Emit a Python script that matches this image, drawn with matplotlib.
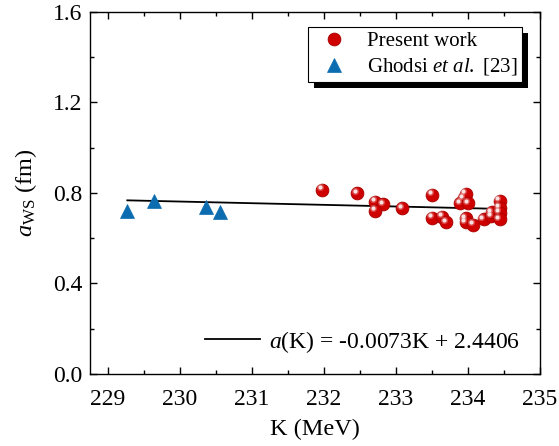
import numpy as np
import matplotlib
matplotlib.use("Agg")
import matplotlib.pyplot as plt
from matplotlib.transforms import offset_copy
from matplotlib.patches import Rectangle
from matplotlib.ticker import MultipleLocator

plt.rcParams['font.family'] = ['Liberation Serif', 'DejaVu Serif']
plt.rcParams['mathtext.fontset'] = 'custom'
plt.rcParams['mathtext.rm'] = 'Liberation Serif'
plt.rcParams['mathtext.it'] = 'Liberation Serif:italic'
plt.rcParams['mathtext.bf'] = 'Liberation Serif:bold'

# Present work: incompressibility K (MeV) and diffuseness a_WS (fm)
present_K = [231.98, 232.46, 232.71, 232.82, 232.71, 233.09, 233.50, 233.50,
             233.64, 233.70, 233.94, 233.97, 233.89, 234.00, 233.97, 233.97,
             234.07, 234.22, 234.32, 234.33, 234.44, 234.44, 234.44, 234.44]
present_a = [0.813, 0.798, 0.761, 0.749, 0.720, 0.732, 0.790, 0.690,
             0.695, 0.670, 0.776, 0.795, 0.754, 0.754, 0.688, 0.670,
             0.660, 0.683, 0.697, 0.714, 0.764, 0.735, 0.712, 0.683]

# Ghodsi et al. [23]
ghodsi_K = [229.27, 229.64, 230.36, 230.55]
ghodsi_a = [0.721, 0.765, 0.736, 0.717]

# Linear fit a(K) = slope*K + intercept
slope = -0.0073
intercept = 2.4406

x_ticks = [229, 230, 231, 232, 233, 234, 235]
y_ticks = [0.0, 0.4, 0.8, 1.2, 1.6]

W, H = 559, 446
fig = plt.figure(figsize=(W / 100, H / 100), dpi=100)
ax = fig.add_axes([89.5 / W, (H - 374) / H, (540 - 89.5) / W, (374 - 11.7) / H])

all_K = np.array(present_K + ghodsi_K)
k_line = np.linspace(all_K.min(), all_K.max(), 50)
fit_line, = ax.plot(k_line, slope * k_line + intercept, color='black', lw=1.3, zorder=2)

red = '#cf0000'
blue = '#0b6db0'
pres, = ax.plot(present_K, present_a, ls='none', marker='o', ms=9.2,
                mfc=red, mec='#a80000', mew=0.6, zorder=3, label='Present work')
# specular highlight on each sphere
hl = offset_copy(ax.transData, fig=fig, x=-1.7, y=1.9, units='points')
ax.plot(present_K, present_a, ls='none', marker='o', ms=5.2, mfc='white',
        mec='none', alpha=0.25, transform=hl, zorder=3.5)
ax.plot(present_K, present_a, ls='none', marker='o', ms=3.0, mfc='white',
        mec='none', alpha=0.85, transform=hl, zorder=4)

gho, = ax.plot(ghodsi_K, ghodsi_a, ls='none', marker='^', ms=9.8,
               mfc=blue, mec=blue, mew=0.5, zorder=3,
               label=r'Ghodsi $\mathit{et\ al.}$ [23]')

ax.set_xlim(228.745, 235)
ax.set_ylim(0.0, 1.6)
ax.set_xticks(x_ticks)
ax.set_yticks(y_ticks)
ax.set_yticklabels([f'{v:.1f}' for v in y_ticks])
ax.xaxis.set_minor_locator(MultipleLocator(0.5))
ax.yaxis.set_minor_locator(MultipleLocator(0.2))
ax.tick_params(which='both', direction='in', top=True, right=True,
               labelsize=17, width=1.0, color='black')
ax.tick_params(which='major', length=5)
ax.tick_params(which='minor', length=3)
ax.tick_params(axis='y', pad=5)
ax.tick_params(axis='x', pad=11)
for s in ax.spines.values():
    s.set_linewidth(1.0)

ax.set_xlabel('K (MeV)', fontsize=17.5, labelpad=6)
ax.set_ylabel(r'$a_{\mathrm{WS}}$ (fm)', fontsize=17.5, labelpad=10)

leg1 = ax.legend(handles=[pres, gho], loc='upper right',
                 bbox_to_anchor=(522 / W, 1 - 27 / H),
                 bbox_transform=fig.transFigure, borderaxespad=0,
                 fontsize=15, frameon=True, fancybox=False, edgecolor='black',
                 framealpha=1, handlelength=2.05, handletextpad=0.55,
                 labelspacing=0.25, borderpad=0.22, numpoints=1)
leg1.get_frame().set_linewidth(0.8)
leg1.set_zorder(6)
ax.add_artist(leg1)

leg2 = ax.legend(handles=[fit_line],
                 labels=[r'$a$(K) = -0.0073K + 2.4406'],
                 loc='center right', bbox_to_anchor=(520 / W, 1 - 341.7 / H),
                 bbox_transform=fig.transFigure, borderaxespad=0, borderpad=0,
                 frameon=False, fontsize=17, handlelength=2.3,
                 handletextpad=0.4)

# solid black drop shadow behind the upper legend
fig.canvas.draw()
bb = leg1.get_window_extent()
shadow = Rectangle((bb.x0 + 6, bb.y0 - 6), bb.width, bb.height,
                   transform=None, facecolor='black', edgecolor='none',
                   zorder=5.5)
ax.add_artist(shadow)

fig.savefig('out.png', dpi=100)
